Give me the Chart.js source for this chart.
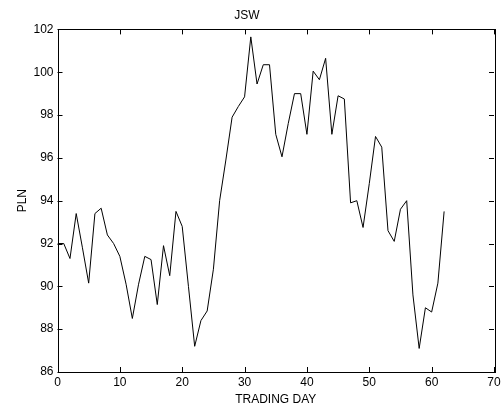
<!DOCTYPE html>
<html>
<head>
<meta charset="utf-8">
<title>JSW</title>
<script src="https://cdn.jsdelivr.net/npm/chart.js@4.4.1/dist/chart.umd.min.js"></script>
<style>
  body { margin: 0; background: #fff; }
  #wykres { display: block; }
</style>
</head>
<body>
<canvas id="wykres" width="504" height="414"></canvas>
<script>
// ceny zamkniecia JSW, dzien 0..62
const dni = [];
for (let i = 0; i <= 62; i++) dni.push(i);

const ceny = [
  92.0, 92.0, 91.3, 93.4, 91.8, 90.15, 93.4, 93.65, 92.4, 92.0,
  91.4, 90.1, 88.5, 90.1, 91.4, 91.25, 89.15, 91.9, 90.5, 93.5,
  92.8, 90.0, 87.2, 88.4, 88.85, 90.8, 94.0, 95.9, 97.9, 98.4,
  98.85, 101.65, 99.45, 100.35, 100.35, 97.1, 96.05, 97.6, 99.0, 99.0,
  97.1, 100.05, 99.65, 100.65, 97.1, 98.9, 98.75, 93.9, 94.0, 92.75,
  94.8, 97.0, 96.5, 92.6, 92.1, 93.6, 94.0, 89.6, 87.1, 89.0,
  88.8, 90.15, 93.5
];

const xTicks = [0, 10, 20, 30, 40, 50, 60, 70];
const yTicks = [86, 88, 90, 92, 94, 96, 98, 100, 102];

const czcionka = "'Liberation Sans', Arial, sans-serif";

// ramka i kreski do srodka jak w matlabie
const ramka = {
  id: 'ramka',
  afterDraw(chart) {
    const ctx = chart.ctx;
    const a = chart.chartArea;
    const sx = chart.scales.x;
    const sy = chart.scales.y;
    ctx.save();
    ctx.strokeStyle = '#000';
    ctx.lineWidth = 1;
    ctx.strokeRect(Math.round(a.left) + 0.5, Math.round(a.top) + 0.5,
      Math.round(a.right - a.left), Math.round(a.bottom - a.top));
    ctx.beginPath();
    xTicks.forEach(function(v) {
      const px = Math.round(sx.getPixelForValue(v)) + 0.5;
      ctx.moveTo(px, a.bottom); ctx.lineTo(px, a.bottom - 5);
      ctx.moveTo(px, a.top); ctx.lineTo(px, a.top + 5);
    });
    yTicks.forEach(function(v) {
      const py = Math.round(sy.getPixelForValue(v)) + 0.5;
      ctx.moveTo(a.left, py); ctx.lineTo(a.left + 5, py);
      ctx.moveTo(a.right, py); ctx.lineTo(a.right - 5, py);
    });
    ctx.stroke();
    ctx.restore();
  }
};

const dane = {
  datasets: [{
    label: 'JSW',
    data: dni.map(function(d, i) { return { x: d, y: ceny[i] }; }),
    borderColor: '#000',
    borderWidth: 1,
    pointRadius: 0,
    tension: 0,
    fill: false
  }]
};

const config = {
  type: 'line',
  data: dane,
  options: {
    responsive: false,
    animation: false,
    devicePixelRatio: 1,
    layout: { padding: { left: 0, right: 10, top: 0, bottom: 0 } },
    plugins: {
      legend: { display: false },
      tooltip: { enabled: false },
      title: {
        display: true,
        text: 'JSW',
        color: '#000',
        font: { family: czcionka, size: 12, weight: 'normal' },
        padding: { top: 8, bottom: 7 }
      }
    },
    scales: {
      x: {
        type: 'linear',
        min: 0,
        max: 70,
        afterFit: function(s) { s.height = 42; },
        afterBuildTicks: function(s) { s.ticks = xTicks.map(function(v) { return { value: v }; }); },
        grid: { display: false, drawTicks: false },
        border: { display: false },
        ticks: { color: '#000', padding: 3, maxRotation: 0, font: { family: czcionka, size: 12 } },
        title: {
          display: true,
          text: 'TRADING DAY',
          color: '#000',
          font: { family: czcionka, size: 12 },
          padding: { top: 0, bottom: 7 }
        }
      },
      y: {
        min: 86,
        max: 102,
        afterFit: function(s) { s.width = 57.5; },
        afterBuildTicks: function(s) { s.ticks = yTicks.map(function(v) { return { value: v }; }); },
        grid: { display: false, drawTicks: false },
        border: { display: false },
        ticks: { color: '#000', padding: 4, font: { family: czcionka, size: 12 } },
        title: {
          display: true,
          text: 'PLN',
          color: '#000',
          font: { family: czcionka, size: 12 },
          padding: { top: 15, bottom: 0 }
        }
      }
    }
  },
  plugins: [ramka]
};

const wykres = new Chart(document.getElementById('wykres'), config);
</script>
</body>
</html>
